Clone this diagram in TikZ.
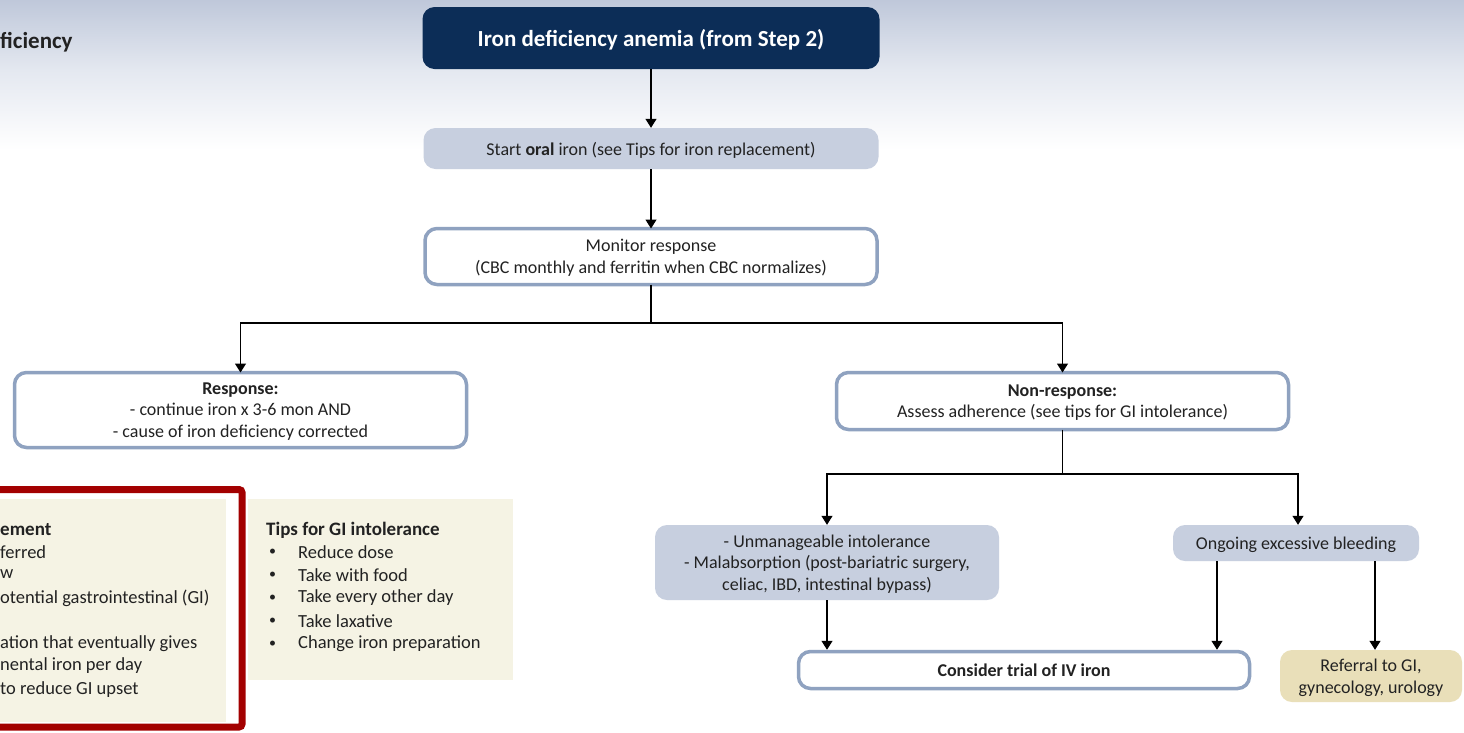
\documentclass[tikz,border=0pt]{standalone}
\usepackage{fontspec}
\setmainfont{Carlito}
\usetikzlibrary{arrows.meta,calc}
\definecolor{navy}{HTML}{0C2D57}
\definecolor{lblue}{HTML}{C7CFDF}
\definecolor{bord}{HTML}{8FA2C0}
\definecolor{cream}{HTML}{F5F3E4}
\definecolor{tan}{HTML}{E9DFB9}
\definecolor{dred}{HTML}{A30000}
\definecolor{txt}{HTML}{222222}
\definecolor{bgtop}{HTML}{BFC8DA}
\definecolor{bgmid}{HTML}{E4E8F0}
\tikzset{
  base/.style={rounded corners=12pt, align=center, text=txt, inner sep=2pt, text depth=0pt,
    font=\fontsize{18}{21.5}\selectfont},
  fillbox/.style={base, fill=lblue},
  linebox/.style={base, fill=white, draw=bord, line width=3.5pt},
  arr/.style={draw=black, line width=1.2pt, -{Triangle[length=9pt,width=11pt]}},
  conn/.style={draw=black, line width=1.2pt},
  tip/.style={anchor=west, inner sep=0pt, text=txt, font=\fontsize{18.5}{21}\selectfont},
}
\begin{document}
\begin{tikzpicture}[x=1pt,y=-1pt]
\useasboundingbox (0,0) rectangle (1464,732);
\fill[white] (0,0) rectangle (1464,732);
\shade[top color=bgtop, bottom color=bgmid] (0,0) rectangle (1464,70);
\shade[top color=bgmid, bottom color=white] (0,70) rectangle (1464,150);

\node[anchor=west, inner sep=0pt, text=txt, font=\fontsize{23}{26}\selectfont\bfseries] (hdr) at (0,42) {ficiency};

% main flow
\node[base, fill=navy, text=white, minimum width=457pt, minimum height=62pt,
      font=\fontsize{23}{26}\selectfont\bfseries] (title) at (651,38) {Iron deficiency anemia (from Step 2)};
\node[fillbox, minimum width=455pt, minimum height=41pt] (start) at (651,148.5)
  {Start \textbf{oral} iron (see Tips for iron replacement)};
\node[linebox, minimum width=452pt, minimum height=56pt] (mon) at (651,256.5)
  {Monitor response\\(CBC monthly and ferritin when CBC normalizes)};
\node[linebox, minimum width=452pt, minimum height=75pt] (resp) at (240.5,410)
  {\textbf{Response:}\\- continue iron x 3-6 mon AND\\- cause of iron deficiency corrected};
\node[linebox, minimum width=452pt, minimum height=57pt] (nonr) at (1062.5,401)
  {\textbf{Non-response:}\\Assess adherence (see tips for GI intolerance)};
\node[fillbox, minimum width=344pt, minimum height=75pt] (unm) at (827,562.5)
  {- Unmanageable intolerance\\- Malabsorption (post-bariatric surgery,\\celiac, IBD, intestinal bypass)};
\node[fillbox, minimum width=246pt, minimum height=36pt] (ong) at (1296,543)
  {Ongoing excessive bleeding};
\node[linebox, minimum width=451pt, minimum height=37pt] (cons) at (1024,670)
  {\textbf{Consider trial of IV iron}};
\node[base, fill=tan, minimum width=182pt, minimum height=52pt] (ref) at (1371,676)
  {Referral to GI,\\gynecology, urology};

% connectors
\draw[arr] (title.south) -- (start.north);
\draw[arr] (start.south) -- ([yshift=-1.75pt]mon.north);
\coordinate (j1) at (651,323);
\draw[conn] ([yshift=1.75pt]mon.south) -- (j1);
\draw[arr] (j1) -| ([yshift=-1.75pt]resp.north);
\draw[arr] (j1) -| ([yshift=-1.75pt]nonr.north);
\coordinate (j2) at (1062.5,474);
\draw[conn] ([yshift=1.75pt]nonr.south) -- (j2);
\draw[arr] (j2) -| (unm.north);
\draw[arr] (j2) -| ([xshift=2pt]ong.north);
\draw[arr] (unm.south) -- (unm.south |- cons.north);
\draw[arr] ([xshift=-79pt]ong.south) -- ([xshift=-79pt]ong.south |- cons.north);
\draw[arr] ([xshift=79pt]ong.south) -- ([xshift=79pt]ong.south |- ref.north);

% Tips for iron replacement (cut off)
\fill[cream] (-5,499) rectangle (226,722);
\draw[dred, line width=7pt, rounded corners=3pt] (-30,489.5) rectangle (242,727);
\node[tip, font=\fontsize{19}{21}\selectfont\bfseries] (r1) at (0,530) {ement};
\node[tip] (r2) at (0,552) {ferred};
\node[tip] (r3) at (0,574) {w};
\node[tip] (r4) at (0,598) {otential gastrointestinal (GI)};
\node[tip] (r5) at (0,644) {ation that eventually gives};
\node[tip] (r6) at (0,666) {nental iron per day};
\node[tip] (r7) at (0,690) {to reduce GI upset};

% Tips for GI intolerance
\fill[cream] (248,499) rectangle (513,680);
\node[tip, font=\fontsize{19}{21}\selectfont\bfseries] (g0) at (266,530) {Tips for GI intolerance};
\foreach \y/\t [count=\i] in {552/Reduce dose,575/Take with food,598/Take every other day,621/Take laxative,644/Change iron preparation}{
  \node[tip, font=\fontsize{14}{21}\selectfont] (gb\i) at (269,\y) {\textbullet};
  \node[tip] (g\i) at (298,\y) {\t};
}
\end{tikzpicture}
\end{document}
